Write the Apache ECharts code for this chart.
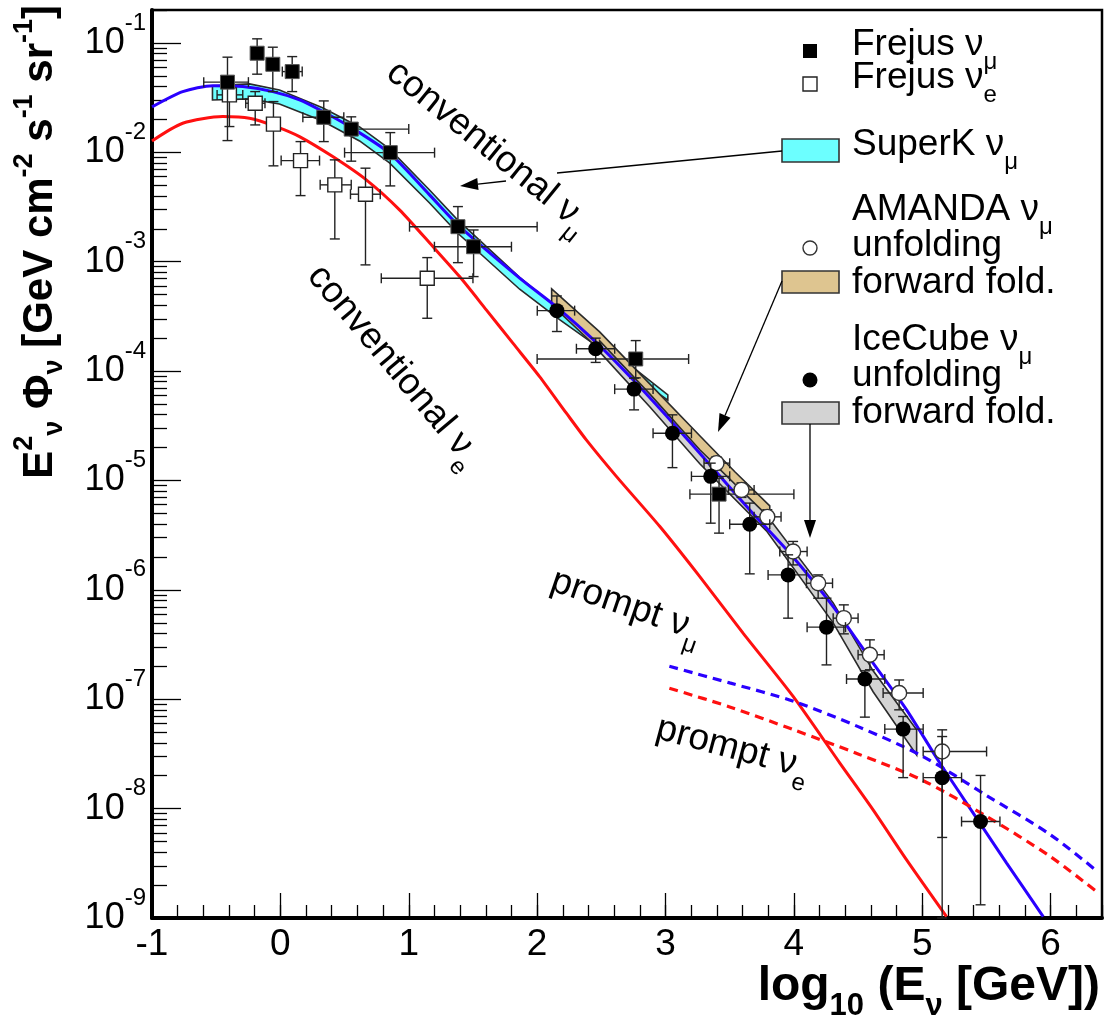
<!DOCTYPE html>
<html>
<head>
<meta charset="utf-8">
<script src="https://cdn.jsdelivr.net/npm/echarts@6/dist/echarts.min.js"></script>
<style>html,body{margin:0;padding:0;background:#fff}#c{width:1107px;height:1034px}</style>
</head>
<body>
<div id="c"></div>
<script>
// ---------------- data (x = log10(E/GeV), flux = E^2 Phi [GeV cm^-2 s^-1 sr^-1]) ----------------
const xTickLabels = [-1, 0, 1, 2, 3, 4, 5, 6];
const yTickExponents = [-9, -8, -7, -6, -5, -4, -3, -2, -1];

const convNuMuX = [-1.0, -0.761, -0.527, -0.293, -0.059, 0.149, 0.330, 0.539, 0.850, 1.162, 1.383, 1.864, 2.150, 2.464, 2.760, 3.058, 3.358, 3.656, 3.968, 4.306, 4.617, 4.878, 5.137, 5.397, 5.657, 5.942];
const convNuMuFlux = [0.0260, 0.0359, 0.0407, 0.0399, 0.0359, 0.0301, 0.0236, 0.0172, 0.00982, 0.00408, 0.00217, 7.08e-4, 3.86e-4, 1.81e-4, 8.02e-5, 3.34e-5, 1.34e-5, 5.38e-6, 2.16e-6, 7.03e-7, 2.14e-7, 8.0e-8, 2.61e-8, 9.10e-9, 3.18e-9, 1.03e-9];

const convNuEX = [-1.0, -0.761, -0.449, -0.241, -0.033, 0.149, 0.408, 0.669, 0.928, 1.188, 1.396, 1.604, 1.811, 2.019, 2.228, 2.383, 2.617, 2.956, 3.267, 3.604, 3.994, 4.358, 4.617, 4.878, 5.189];
const convNuEFlux = [0.0127, 0.01845, 0.0212, 0.0205, 0.0172, 0.01393, 0.00914, 0.0056, 0.00298, 0.001374, 7.31e-4, 3.63e-4, 1.80e-4, 8.91e-5, 4.12e-5, 2.35e-5, 1.09e-5, 3.79e-6, 1.32e-6, 4.02e-7, 1.06e-7, 2.61e-8, 9.75e-9, 3.40e-9, 1.03e-9];

const promptNuMuX = [3.03, 3.5, 4.0, 4.5, 5.0, 5.5, 6.0, 6.37];
const promptNuMuFlux = [2.0e-7, 1.41e-7, 9.55e-8, 5.62e-8, 3.02e-8, 1.32e-8, 5.75e-9, 2.63e-9];

const promptNuEX = [3.03, 3.5, 4.0, 4.5, 5.0, 5.5, 6.0, 6.37];
const promptNuEFlux = [1.26e-7, 8.51e-8, 5.25e-8, 3.16e-8, 1.82e-8, 8.51e-9, 3.63e-9, 1.70e-9];

// bands: x, upper flux, lower flux
const superKX = [-0.529, -0.241, -0.007, 0.328, 0.617, 0.850, 1.162, 1.380, 1.864, 2.175, 2.487, 2.722, 3.018];
const superKUpper = [0.0405, 0.0422, 0.0372, 0.0255, 0.01706, 0.01074, 0.00453, 0.00241, 7.2e-4, 3.63e-4, 2.00e-4, 1.14e-4, 6.05e-5];
const superKLower = [0.0301, 0.0308, 0.0277, 0.01936, 0.0127, 0.0080, 0.00344, 0.00183, 5.6e-4, 2.95e-4, 1.62e-4, 9.55e-5, 5.43e-5];

const amandaFFX = [2.113, 2.487, 2.877, 3.267, 3.540, 3.812];
const amandaFFUpper = [5.64e-4, 2.28e-4, 7.64e-5, 2.56e-5, 1.20e-5, 5.86e-6];
const amandaFFLower = [4.03e-4, 1.56e-4, 5.22e-5, 1.68e-5, 7.87e-6, 4.01e-6];

const iceCubeFFX = [2.487, 2.877, 3.267, 3.786, 4.306, 4.617, 4.956];
const iceCubeFFUpper = [1.89e-4, 6.19e-5, 1.91e-5, 4.85e-6, 7.60e-7, 1.82e-7, 5.25e-8];
const iceCubeFFLower = [1.50e-4, 4.71e-5, 1.42e-5, 3.46e-6, 4.99e-7, 1.17e-7, 3.10e-8];

// points: [x, flux, xLow, xHigh, fluxLow, fluxHigh]
const frejusNuMu = [
  [-0.412, 0.0438, -0.597, -0.249, 0.0128, 0.0741],
  [-0.181, 0.0805, -0.181, -0.181, 0.0518, 0.109],
  [-0.059, 0.0638, -0.059, -0.059, 0.0359, 0.0914],
  [0.092, 0.0547, 0.015, 0.170, 0.0359, 0.0750],
  [0.338, 0.0209, 0.175, 0.494, 0.01253, 0.0295],
  [0.552, 0.0163, 0.507, 1.000, 0.0083, 0.0211],
  [0.856, 0.00993, 0.500, 1.201, 0.00493, 0.01514],
  [1.383, 0.00209, 1.006, 2.000, 0.00098, 0.00319],
  [1.505, 0.00137, 1.200, 1.800, 0.000731, 0.00195],
  [2.768, 1.29e-4, 2.000, 3.180, 8.67e-5, 1.90e-4],
  [3.417, 7.5e-6, 3.190, 4.000, 3.30e-6, 1.05e-5]
];
const frejusNuE = [
  [-0.397, 0.0335, -0.493, -0.293, 0.0172, 0.0431],
  [-0.196, 0.0281, -0.27, -0.12, 0.0178, 0.0359],
  [-0.054, 0.0181, -0.054, -0.054, 0.00752, 0.0291],
  [0.157, 0.0084, 0.006, 0.305, 0.00402, 0.01253],
  [0.424, 0.00504, 0.310, 0.552, 0.001614, 0.00853],
  [0.663, 0.00414, 0.546, 0.778, 0.000935, 0.00716],
  [1.144, 7.06e-4, 0.786, 1.500, 3.04e-4, 1.09e-3]
];
const iceCubeUnfold = [
  [2.154, 3.57e-4, 2.001, 2.292, 2.30e-4, 4.86e-4],
  [2.456, 1.60e-4, 2.306, 2.604, 1.20e-4, 2.00e-4],
  [2.755, 6.84e-5, 2.604, 2.903, 4.42e-5, 8.61e-5],
  [3.054, 2.70e-5, 2.903, 3.202, 1.31e-5, 3.98e-5],
  [3.352, 1.09e-5, 3.202, 3.500, 4.07e-6, 1.44e-5],
  [3.656, 3.98e-6, 3.500, 3.812, 1.40e-6, 6.21e-6],
  [3.955, 1.37e-6, 3.799, 4.098, 5.51e-7, 2.09e-6],
  [4.254, 4.56e-7, 4.103, 4.402, 2.06e-7, 8.39e-7],
  [4.553, 1.53e-7, 4.410, 4.708, 6.86e-8, 1.82e-7],
  [4.851, 5.33e-8, 4.708, 5.007, 1.92e-8, 6.95e-8],
  [5.155, 1.92e-8, 5.007, 5.306, 1.0e-9, 4.56e-8],
  [5.454, 7.62e-9, 5.306, 5.605, 1.32e-9, 2.01e-8]
];
const amandaUnfold = [
  [3.397, 1.44e-5, 3.30, 3.50, 1.25e-5, 1.65e-5],
  [3.592, 8.20e-6, 3.49, 3.69, 7.0e-6, 9.5e-6],
  [3.793, 4.65e-6, 3.69, 3.90, 4.0e-6, 5.4e-6],
  [3.994, 2.24e-6, 3.890, 4.103, 1.69e-6, 2.77e-6],
  [4.189, 1.15e-6, 4.098, 4.301, 8.39e-7, 1.37e-6],
  [4.389, 5.51e-7, 4.306, 4.500, 3.96e-7, 7.29e-7],
  [4.592, 2.55e-7, 4.50, 4.703, 1.86e-7, 3.49e-7],
  [4.820, 1.14e-7, 4.695, 5.007, 8.0e-8, 1.50e-7],
  [5.155, 3.33e-8, 5.007, 5.501, 5.45e-9, 5.25e-8]
];

// ---------------- chart ----------------
const FONT = "'Liberation Sans', Arial, Helvetica, sans-serif";
const L = Math.log10;
const X_MIN = -1, X_MAX = 6.4, Y_MIN = -9, Y_MAX = L(0.2);

const xMinorTicks = [];
for (let i = 0; i <= 37; i++) xMinorTicks.push(Math.round((X_MIN + i * 0.2) * 10) / 10);
const yMinorTicks = [];
yTickExponents.forEach(n => { for (let k = 2; k <= 9; k++) { const v = n + L(k); if (v <= Y_MAX + 1e-9) yMinorTicks.push(v); } });

const chart = echarts.init(document.getElementById('c'), null, {renderer: 'canvas'});

function lineData(xs, fs) { return xs.map((x, i) => [x, L(fs[i])]); }

function bandSeries(xs, up, lo, fill) {
  return {
    type: 'custom', z: 2, silent: true,
    data: xs.map((x, i) => [x, L(up[i]), L(lo[i])]),
    renderItem: function (params, api) {
      if (params.dataIndex !== 0) return null;
      const pts = [];
      for (let i = 0; i < xs.length; i++) pts.push(api.coord([xs[i], L(up[i])]));
      for (let i = xs.length - 1; i >= 0; i--) pts.push(api.coord([xs[i], L(lo[i])]));
      return {type: 'polygon', shape: {points: pts}, style: {fill: fill, stroke: '#2a2a2a', lineWidth: 1.6}};
    }
  };
}

function pointSeries(rows, kind) {
  return {
    type: 'custom', z: 5, silent: true,
    data: rows.map(r => [r[0], L(r[1]), r[2], r[3], L(r[4]), L(r[5])]),
    renderItem: function (params, api) {
      const x = api.value(0), y = api.value(1), xl = api.value(2), xh = api.value(3), yl = api.value(4), yh = api.value(5);
      const c = api.coord([x, y]);
      const ch = [];
      const st = {stroke: '#222', lineWidth: 1.4};
      const cap = 5;
      if (yh - yl > 1e-6) {
        const a = api.coord([x, yl]), b = api.coord([x, yh]);
        ch.push({type: 'line', shape: {x1: c[0], y1: a[1], x2: c[0], y2: b[1]}, style: st});
        ch.push({type: 'line', shape: {x1: c[0] - cap, y1: a[1], x2: c[0] + cap, y2: a[1]}, style: st});
        ch.push({type: 'line', shape: {x1: c[0] - cap, y1: b[1], x2: c[0] + cap, y2: b[1]}, style: st});
      }
      if (xh - xl > 1e-6) {
        const a = api.coord([xl, y]), b = api.coord([xh, y]);
        ch.push({type: 'line', shape: {x1: a[0], y1: c[1], x2: b[0], y2: c[1]}, style: st});
        ch.push({type: 'line', shape: {x1: a[0], y1: c[1] - cap, x2: a[0], y2: c[1] + cap}, style: st});
        ch.push({type: 'line', shape: {x1: b[0], y1: c[1] - cap, x2: b[0], y2: c[1] + cap}, style: st});
      }
      if (kind === 'fsq') ch.push({type: 'rect', shape: {x: c[0] - 7, y: c[1] - 7, width: 14, height: 14}, style: {fill: '#000', stroke: '#555', lineWidth: 1}});
      if (kind === 'osq') ch.push({type: 'rect', shape: {x: c[0] - 7, y: c[1] - 7, width: 14, height: 14}, style: {fill: '#fff', stroke: '#222', lineWidth: 1.4}});
      if (kind === 'fci') ch.push({type: 'circle', shape: {cx: c[0], cy: c[1], r: 7.5}, style: {fill: '#000'}});
      if (kind === 'oci') ch.push({type: 'circle', shape: {cx: c[0], cy: c[1], r: 7.5}, style: {fill: '#fff', stroke: '#333', lineWidth: 1.4}});
      return {type: 'group', children: ch};
    }
  };
}

const BLUE = '#2a00ff', RED = '#ff1010';

const option = {
  animation: false,
  backgroundColor: '#fff',
  grid: {left: 152, right: 5, top: 10, bottom: 116, show: true, borderColor: '#000', borderWidth: 2.5, containLabel: false, outerBoundsMode: 'none'},
  xAxis: [
    {
      type: 'value', min: X_MIN, max: X_MAX, interval: 1, position: 'bottom',
      axisLine: {show: true, onZero: false, lineStyle: {color: '#000', width: 4}},
      axisTick: {show: true, inside: true, length: 25, customValues: xTickLabels, lineStyle: {color: '#000', width: 1.3}},
      axisLabel: {show: true, customValues: xTickLabels, formatter: v => String(v), fontSize: 37, fontFamily: FONT, color: '#000', margin: 8},
      splitLine: {show: false}
    },
    {
      type: 'value', min: X_MIN, max: X_MAX, position: 'bottom',
      axisLine: {show: false, onZero: false}, axisLabel: {show: false}, splitLine: {show: false},
      axisTick: {show: true, inside: true, length: 13, customValues: xMinorTicks, lineStyle: {color: '#000', width: 1.3}}
    }
  ],
  yAxis: [
    {
      type: 'value', min: Y_MIN, max: Y_MAX, interval: 1, position: 'left',
      axisLine: {show: true, onZero: false, lineStyle: {color: '#000', width: 4}},
      axisTick: {show: true, inside: true, length: 29, customValues: yTickExponents, lineStyle: {color: '#000', width: 1.3}},
      axisLabel: {
        show: true, customValues: yTickExponents, margin: 6,
        formatter: v => '{b|10}{s|' + v + '}',
        rich: {
          b: {fontSize: 36, fontFamily: FONT, color: '#000', lineHeight: 40},
          s: {fontSize: 24, fontFamily: FONT, color: '#000', lineHeight: 24, padding: [0, 0, 40, 0]}
        }
      },
      splitLine: {show: false}
    },
    {
      type: 'value', min: Y_MIN, max: Y_MAX, position: 'left',
      axisLine: {show: false, onZero: false}, axisLabel: {show: false}, splitLine: {show: false},
      axisTick: {show: true, inside: true, length: 15, customValues: yMinorTicks, lineStyle: {color: '#000', width: 1.3}}
    }
  ],
  series: [
    bandSeries(superKX, superKUpper, superKLower, '#6cffff'),
    bandSeries(amandaFFX, amandaFFUpper, amandaFFLower, '#dec590'),
    bandSeries(iceCubeFFX, iceCubeFFUpper, iceCubeFFLower, '#d3d3d3'),
    {type: 'line', z: 3, data: lineData(convNuMuX, convNuMuFlux), showSymbol: false, smooth: 0.25, lineStyle: {color: BLUE, width: 3}, silent: true},
    {type: 'line', z: 3, data: lineData(convNuEX, convNuEFlux), showSymbol: false, smooth: 0.25, lineStyle: {color: RED, width: 3}, silent: true},
    {type: 'line', z: 3, data: lineData(promptNuMuX, promptNuMuFlux), showSymbol: false, smooth: 0.3, lineStyle: {color: BLUE, width: 3.2, type: [9, 6]}, silent: true},
    {type: 'line', z: 3, data: lineData(promptNuEX, promptNuEFlux), showSymbol: false, smooth: 0.3, lineStyle: {color: RED, width: 3.2, type: [9, 6]}, silent: true},
    pointSeries(frejusNuE, 'osq'),
    pointSeries(frejusNuMu, 'fsq'),
    pointSeries(amandaUnfold, 'oci'),
    pointSeries(iceCubeUnfold, 'fci')
  ]
};

// ---------------- annotations ----------------
const txtRich = (fs) => ({
  t: {fontSize: fs, fontFamily: FONT, fill: '#000', lineHeight: fs + 3},
  s: {fontSize: Math.round(fs * 0.66), fontFamily: FONT, fill: '#000', lineHeight: Math.round(fs * 0.66), padding: [34, 0, 0, 0]}
});
function label(x, y, text, rot, fs, align) {
  return {type: 'text', x: x, y: y, rotation: rot || 0, z: 100, silent: true,
    style: {text: text, rich: txtRich(fs || 37), align: align || 'left', verticalAlign: 'middle', font: (fs || 37) + 'px ' + FONT, fill: '#000'}};
}
function arrow(x1, y1, x2, y2, hl, hw) {
  hl = hl || 18; hw = hw || 6;
  const dx = x2 - x1, dy = y2 - y1, len = Math.hypot(dx, dy), ux = dx / len, uy = dy / len;
  const bx = x2 - ux * hl, by = y2 - uy * hl;
  return [
    {type: 'line', z: 100, silent: true, shape: {x1: x1, y1: y1, x2: bx, y2: by}, style: {stroke: '#000', lineWidth: 1.3}},
    {type: 'polygon', z: 100, silent: true, shape: {points: [[x2, y2], [bx - uy * hw, by + ux * hw], [bx + uy * hw, by - ux * hw]]}, style: {fill: '#000'}}
  ];
}
const deg = Math.PI / 180;
const graphic = [];
// legend markers
graphic.push({type: 'rect', z: 100, shape: {x: 803, y: 44, width: 14, height: 14}, style: {fill: '#000'}});
graphic.push({type: 'rect', z: 100, shape: {x: 803, y: 77, width: 14, height: 14}, style: {fill: '#fff', stroke: '#222', lineWidth: 1.4}});
graphic.push({type: 'rect', z: 100, shape: {x: 782, y: 139, width: 57, height: 23}, style: {fill: '#6cffff', stroke: '#333', lineWidth: 1.6}});
graphic.push({type: 'circle', z: 100, shape: {cx: 810, cy: 248, r: 7}, style: {fill: '#fff', stroke: '#333', lineWidth: 1.4}});
graphic.push({type: 'rect', z: 100, shape: {x: 782, y: 271, width: 57, height: 22}, style: {fill: '#dec590', stroke: '#333', lineWidth: 1.6}});
graphic.push({type: 'circle', z: 100, shape: {cx: 810, cy: 380, r: 7.5}, style: {fill: '#000'}});
graphic.push({type: 'rect', z: 100, shape: {x: 782, y: 402, width: 57, height: 22}, style: {fill: '#d3d3d3', stroke: '#333', lineWidth: 1.6}});
// legend texts
graphic.push(label(852, 45, '{t|Frejus ν}{s|μ}'));
graphic.push(label(852, 78, '{t|Frejus ν}{s|e}'));
graphic.push(label(852, 145, '{t|SuperK ν}{s|μ}'));
graphic.push(label(852, 210, '{t|AMANDA ν}{s|μ}'));
graphic.push(label(852, 246, '{t|unfolding}'));
graphic.push(label(852, 283, '{t|forward fold.}'));
graphic.push(label(852, 340, '{t|IceCube ν}{s|μ}'));
graphic.push(label(852, 376, '{t|unfolding}'));
graphic.push(label(852, 413, '{t|forward fold.}'));
// arrows
graphic.push({type: 'line', z: 100, silent: true, shape: {x1: 782, y1: 151, x2: 557, y2: 173}, style: {stroke: '#000', lineWidth: 1.3}});
arrow(506, 181, 460, 186).forEach(e => graphic.push(e));
arrow(782, 281, 718, 432).forEach(e => graphic.push(e));
arrow(810, 424, 810, 538).forEach(e => graphic.push(e));
// curve labels
graphic.push(label(391, 68, '{t|conventional ν}{s|μ}', -39 * deg));
graphic.push(label(314, 270, '{t|conventional ν}{s|e}', -50 * deg));
graphic.push(label(552, 580, '{t|prompt ν}{s|μ}', -19 * deg));
graphic.push(label(657, 728, '{t|prompt ν}{s|e}', -15 * deg));
// axis titles
graphic.push({type: 'text', x: 40, y: 5, rotation: Math.PI / 2, z: 100, silent: true,
  style: {text: '{b|E}{sp|2}{sb|ν}{b| Φ}{sb|ν}{b| [GeV cm}{sp|-2}{b| s}{sp|-1}{b| sr}{sp|-1}{b|]}', align: 'right', verticalAlign: 'middle',
    rich: {
      b: {fontSize: 42, fontWeight: 'bold', fontFamily: FONT, fill: '#000', lineHeight: 46},
      sp: {fontSize: 27, fontWeight: 'bold', fontFamily: FONT, fill: '#000', lineHeight: 27, padding: [0, 0, 30, 0]},
      sb: {fontSize: 27, fontWeight: 'bold', fontFamily: FONT, fill: '#000', lineHeight: 27, padding: [30, 0, 0, 0]}
    }}});
graphic.push({type: 'text', x: 1100, y: 987, z: 100, silent: true,
  style: {text: '{b|log}{sb|10}{b| (E}{sb|ν}{b| [GeV])}', align: 'right', verticalAlign: 'middle',
    rich: {
      b: {fontSize: 48, fontWeight: 'bold', fontFamily: FONT, fill: '#000', lineHeight: 52},
      sb: {fontSize: 31, fontWeight: 'bold', fontFamily: FONT, fill: '#000', lineHeight: 31, padding: [38, 0, 0, 0]}
    }}});
option.graphic = graphic;

chart.setOption(option);
</script>
</body>
</html>
